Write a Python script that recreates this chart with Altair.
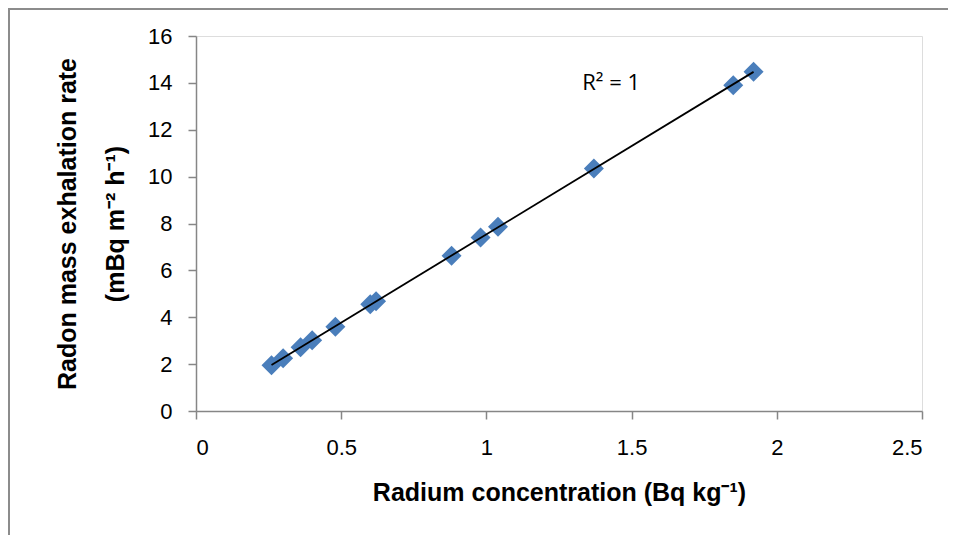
import altair as alt
import pandas as pd

# Data
radium = [0.26, 0.30, 0.36, 0.40, 0.48, 0.60, 0.62, 0.88, 0.98, 1.04, 1.37, 1.85, 1.92]
exhalation = [1.95, 2.25, 2.72, 3.02, 3.60, 4.55, 4.68, 6.62, 7.40, 7.86, 10.35, 13.90, 14.48]
x_ticks = [0, 0.5, 1, 1.5, 2, 2.5]
y_ticks = [0, 2, 4, 6, 8, 10, 12, 14, 16]
r2_label = ["R\u00b2 = 1"]
r2_pos_x = [1.33]
r2_pos_y = [13.7]

df = pd.DataFrame({"x": radium, "y": exhalation})
lab = pd.DataFrame({"x": r2_pos_x, "y": r2_pos_y, "t": r2_label})

FONT = "Liberation Sans"
NARROW = "Liberation Sans Narrow, Liberation Sans"
AXIS_GREY = "#868686"

xenc = alt.X(
    "x:Q",
    scale=alt.Scale(domain=[0, 2.5], nice=False, zero=True),
    axis=alt.Axis(
        values=x_ticks, format="~g", grid=False,
        domainColor=AXIS_GREY, domainWidth=1.5, tickColor=AXIS_GREY, tickWidth=1.5, tickSize=8,
        labelFont=NARROW, labelFontSize=22, labelColor="#000000", labelPadding=18,
        title="Radium concentration (Bq kg\u207b\u00b9)",
        titleFont=FONT, titleFontSize=25, titleFontWeight="bold", titleColor="#000000",
        titlePadding=22,
    ),
)
yenc = alt.Y(
    "y:Q",
    scale=alt.Scale(domain=[0, 16], nice=False),
    axis=alt.Axis(
        values=y_ticks, grid=False,
        domainColor=AXIS_GREY, domainWidth=1.5, tickColor=AXIS_GREY, tickWidth=1.5, tickSize=8,
        labelFont=FONT, labelFontSize=22, labelColor="#000000", labelPadding=16,
        title=["Radon mass exhalation rate", "(mBq m\u207b\u00b2 h\u207b\u00b9)"],
        titleFont=FONT, titleFontSize=25, titleFontWeight="bold", titleColor="#000000",
        titleAngle=-90, titleAlign="center", titleBaseline="alphabetic",
        titleX=-121, titleY=187.5, titleLineHeight=48,
    ),
)

points = alt.Chart(df).mark_point(
    shape="diamond", filled=True, size=400, color="#4A7EBB", opacity=1
).encode(x=xenc, y=yenc)

trend = alt.Chart(df).transform_regression("x", "y").mark_line(
    color="#000000", strokeWidth=1.8
).encode(x="x:Q", y="y:Q")

label = alt.Chart(lab).mark_text(
    align="left", baseline="alphabetic", font="Open Sans", fontSize=22, color="#000000"
).encode(x="x:Q", y="y:Q", text="t:N")

frame = alt.Chart(pd.DataFrame({"a": [0]})).mark_rect(
    fill=None, stroke="#8c8c8c", strokeWidth=2, clip=False
).encode(
    x=alt.value(-187), x2=alt.value(900), y=alt.value(-27), y2=alt.value(700)
)

chart = alt.layer(frame, points, trend, label).properties(
    width=726, height=375,
    autosize=alt.AutoSizeParams(type="none"),
    padding={"left": 188, "top": 28, "right": 26, "bottom": 124},
).configure_view(stroke=None).configure(background="#ffffff")

chart.save("out.html", embed_options={"renderer": "svg", "actions": False})
